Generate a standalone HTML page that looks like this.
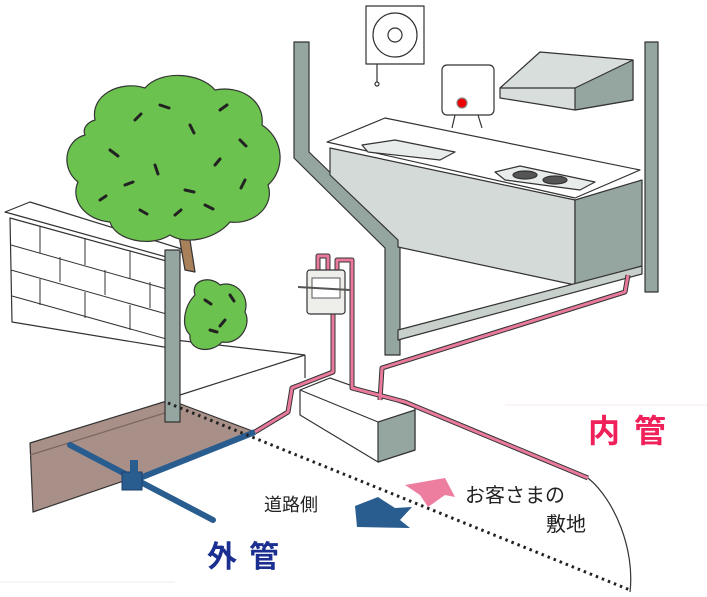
<!DOCTYPE html>
<html><head><meta charset="utf-8"><style>
html,body{margin:0;padding:0;background:#fff;width:707px;height:597px;overflow:hidden}
svg{display:block}
text{font-family:"Liberation Sans","Noto Sans CJK JP",sans-serif}
</style></head><body>
<svg width="707" height="597" viewBox="0 0 707 597" xmlns="http://www.w3.org/2000/svg">
<g stroke="#333" stroke-width="1.2" stroke-linejoin="round">
<!-- brown ground strip -->
<polygon points="30,443 170,400 255,432 150,472 33,512" fill="#a89088"/>
<line x1="30" y1="455" x2="168" y2="412" stroke="#7a6660"/>
<!-- ground lines -->
<line x1="175" y1="340" x2="305" y2="355" fill="none"/>
<line x1="305" y1="355" x2="305" y2="378"/>
<line x1="180" y1="395" x2="305" y2="355"/>
<!-- brick wall -->
<polygon points="5,212 30,202 185,250 170,258" fill="#fff"/>
<polygon points="10,218 170,262 170,348 12,322" fill="#fff"/>
<g stroke-width="1">
<line x1="11" y1="245" x2="170" y2="290"/><line x1="11" y1="270" x2="170" y2="315"/><line x1="12" y1="296" x2="170" y2="340"/>
<line x1="40" y1="226" x2="40" y2="253"/><line x1="85" y1="238" x2="85" y2="265"/><line x1="130" y1="251" x2="130" y2="278"/>
<line x1="60" y1="257" x2="60" y2="282"/><line x1="105" y1="270" x2="105" y2="295"/><line x1="150" y1="282" x2="150" y2="308"/>
<line x1="40" y1="279" x2="40" y2="305"/><line x1="85" y1="292" x2="85" y2="318"/><line x1="130" y1="305" x2="130" y2="330"/>
</g>
<!-- tree -->
<path d="M178,230 L185,270 L195,272 L190,240 L205,225 Z" fill="#a8805a"/>
<path d="M95,120 C90,95 120,80 145,88 C160,70 200,72 215,90 C240,85 265,100 262,125 C285,140 285,170 268,185 C275,205 255,225 230,222 C215,240 185,245 170,235 C150,248 115,240 110,222 C85,220 70,200 78,182 C60,168 65,140 85,135 C82,128 88,122 95,120 Z" fill="#6cc24e"/>
<path d="M195,295 C190,280 210,275 220,285 C235,280 250,295 245,312 C252,325 240,345 222,342 C210,355 188,350 190,335 C180,325 185,305 195,295 Z" fill="#6cc24e"/>
<g stroke="#222" stroke-width="3" stroke-linecap="round" fill="none">
<path d="M110,150 l8,6"/><path d="M135,120 l6,-6"/><path d="M160,105 l9,3"/><path d="M190,125 l4,8"/><path d="M220,110 l7,-5"/><path d="M240,140 l6,6"/><path d="M125,185 l8,-3"/><path d="M155,165 l3,9"/><path d="M185,190 l9,2"/><path d="M215,165 l5,-6"/><path d="M245,180 l-4,8"/><path d="M140,210 l7,4"/><path d="M175,215 l6,-5"/><path d="M205,205 l8,4"/><path d="M100,200 l6,-4"/><path d="M205,300 l6,4"/><path d="M225,320 l-5,6"/><path d="M210,330 l7,2"/><path d="M230,295 l4,6"/>
</g>
<!-- wall pillar -->
<rect x="165" y="250" width="15" height="172" fill="#95a59f"/>
<!-- main pillars -->
<polygon points="294,42 309,42 309,152 400,240 400,355 385,355 385,248 294,158" fill="#95a59f"/>
<rect x="645" y="42" width="13" height="250" fill="#95a59f"/>
<!-- fan -->
<rect x="366" y="6" width="58" height="58" fill="#fff"/>
<circle cx="395" cy="35" r="22" fill="#fff"/>
<circle cx="395" cy="35" r="7" fill="#fff"/>
<line x1="377" y1="64" x2="377" y2="82"/><circle cx="377" cy="84" r="2" fill="#fff"/>
<!-- water heater -->
<rect x="442" y="65" width="52" height="50" rx="5" fill="#fff"/>
<circle cx="462" cy="103" r="5" fill="#e00" stroke="#888"/>
<path d="M455,115 L452,128 M478,115 L482,128" fill="none"/>
<!-- hood -->
<polygon points="500,88 540,52 633,60 633,100 575,110 500,98" fill="#d8dedb"/>
<polygon points="575,88 633,60 633,100 575,110" fill="#95a59f"/>
<line x1="500" y1="88" x2="575" y2="88"/>
<!-- counter -->
<polygon points="327,142 385,118 640,170 575,198" fill="#fff"/>
<polygon points="330,148 575,200 575,285 398,247 398,240 330,175" fill="#d3dad7"/>
<polygon points="575,200 642,180 642,266 575,285" fill="#95a59f"/>
<path d="M362,145 L395,140 L455,152 L440,160 L368,152 Z" fill="#e8ecea"/>
<path d="M495,172 L520,166 L595,182 L580,190 L505,180 Z" fill="#e8ecea"/>
<ellipse cx="525" cy="175" rx="12" ry="4" fill="#555"/><ellipse cx="555" cy="180" rx="12" ry="4" fill="#555"/>
<polygon points="398,330 642,266 642,274 398,340" fill="#c8d0cc"/>
<!-- block under meter -->
<polygon points="300,390 330,378 415,408 415,450 378,462 300,415" fill="#fff"/>
<polygon points="378,422 415,410 415,450 378,462" fill="#95a59f"/>
<line x1="300" y1="390" x2="378" y2="422"/>
</g>
<!-- pink pipes -->
<g fill="none" stroke-linejoin="round">
<g stroke="#333" stroke-width="5">
<path d="M255,432 L288,412 L292,388 L333,372 L333,300"/>
<path d="M318,280 L318,256 L328,256 L328,272"/>
<path d="M337,272 L337,260 L352,260 L352,388 L405,402 L588,478"/>
<path d="M380,400 L382,368 L625,292 L628,275"/>
</g>
<g stroke="#e97a9c" stroke-width="3">
<path d="M255,432 L288,412 L292,388 L333,372 L333,300"/>
<path d="M318,280 L318,256 L328,256 L328,272"/>
<path d="M337,272 L337,260 L352,260 L352,388 L405,402 L588,478"/>
<path d="M380,400 L382,368 L625,292 L628,275"/>
</g>
<!-- blue pipes -->
<path d="M70,445 L213,520" stroke="#2a5d8f" stroke-width="6" stroke-linecap="round"/>
<path d="M130,482 L255,432" stroke="#2a5d8f" stroke-width="6"/>
</g>
<!-- meter -->
<rect x="307" y="270" width="38" height="44" rx="3" fill="#eeeeea" stroke="#333" stroke-width="1.2"/>
<rect x="312" y="278" width="28" height="20" fill="#fff" stroke="#555"/>
<line x1="298" y1="287" x2="350" y2="290" stroke="#555" stroke-width="2"/>
<rect x="122" y="472" width="20" height="18" fill="#2a5d8f" stroke="#1a3d6a"/>
<rect x="130" y="460" width="8" height="14" fill="#2a5d8f"/>
<!-- dotted boundary -->
<line x1="168" y1="403" x2="630" y2="590" stroke="#222" stroke-width="3" stroke-dasharray="2.5,4"/>
<path d="M588,478 C615,500 635,550 630,592" fill="none" stroke="#333" stroke-width="1.2"/>
<line x1="505" y1="405" x2="707" y2="405" stroke="#f4e8ee" stroke-width="1"/>
<line x1="0" y1="582" x2="175" y2="582" stroke="#eee" stroke-width="1"/>
<!-- arrows -->
<polygon points="405,485 445,478 455,497 445,495 428,507 420,495" fill="#ee7ea0"/>
<polygon points="355,506 378,497 395,508 412,507 400,520 410,528 357,527" fill="#2a5d8f"/>
<!-- labels -->
<text x="588" y="442" font-size="32" font-weight="bold" fill="#f0205a" letter-spacing="14">内管</text>
<text x="207" y="567" font-size="30" font-weight="bold" fill="#1a2f8f" letter-spacing="12">外管</text>
<text x="264" y="511" font-size="18" fill="#222">道路側</text>
<text x="465" y="502" font-size="20" fill="#222">お客さまの</text>
<text x="546" y="531" font-size="20" fill="#222">敷地</text>
</svg>
</body></html>
